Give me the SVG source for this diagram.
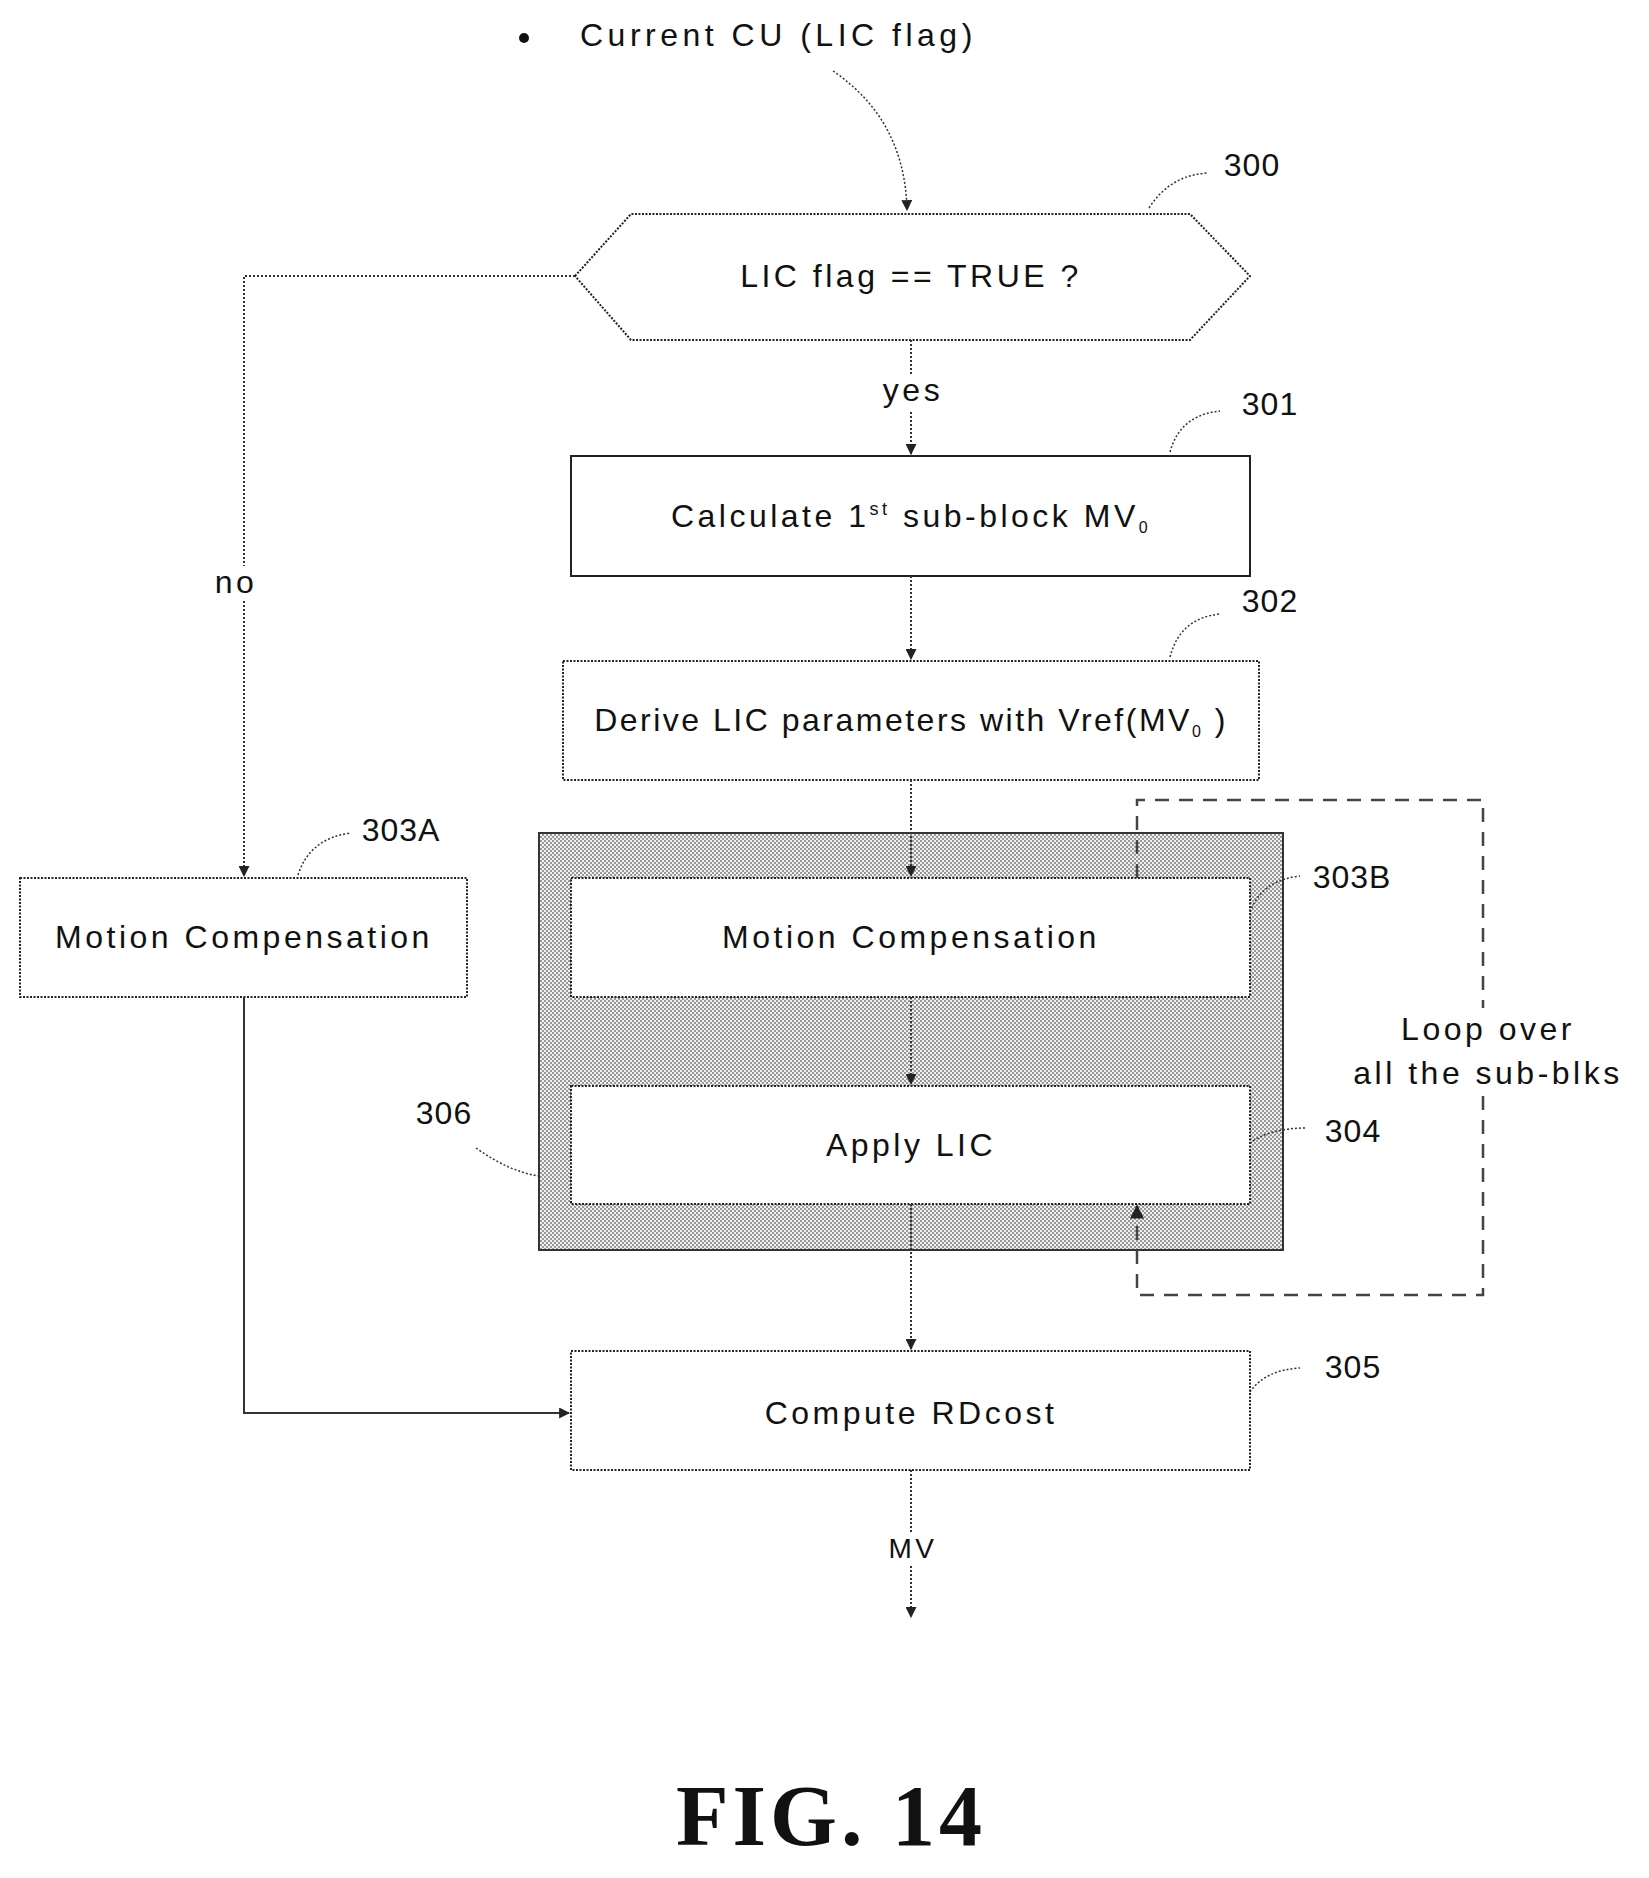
<svg xmlns="http://www.w3.org/2000/svg" width="1649" height="1878" viewBox="0 0 1649 1878">
<defs>
<style>
text{font-family:"Liberation Sans",Arial,sans-serif;font-size:32px;fill:#111;letter-spacing:3.5px}
.n{letter-spacing:1px}
.c{text-anchor:middle}
.box{fill:#fff;stroke:#222;stroke-width:2;stroke-dasharray:2,1.5}
.ln{fill:none;stroke:#333;stroke-width:2;stroke-dasharray:2,2}
.ld{fill:none;stroke:#333;stroke-width:1.5;stroke-dasharray:2,2}
.loop{fill:none;stroke:#444;stroke-width:2.5;stroke-dasharray:14,10}
.bg{fill:#fff}
</style>
<pattern id="dots" width="4" height="4" patternUnits="userSpaceOnUse"><rect width="4" height="4" fill="#f0f0f0"/><rect width="2" height="2" fill="#999"/><rect x="2" y="2" width="2" height="2" fill="#999"/></pattern>
<marker id="ar" viewBox="0 0 10 10" refX="9" refY="5" markerWidth="11" markerHeight="11" markerUnits="userSpaceOnUse" orient="auto"><path d="M0,0 L10,5 L0,10 z" fill="#222"/></marker>
<marker id="ar2" viewBox="0 0 10 10" refX="9" refY="5" markerWidth="14" markerHeight="14" markerUnits="userSpaceOnUse" orient="auto"><path d="M0,0 L10,5 L0,10 z" fill="#222"/></marker>
</defs>
<g id="start">
<circle cx="524" cy="38" r="5" fill="#111"/>
<text x="580" y="46" style="letter-spacing:4.5px">Current CU (LIC flag)</text>
</g>
<g id="n306">
<rect x="539" y="833" width="744" height="417" fill="url(#dots)" stroke="#333" stroke-width="2"/>
<path class="ld" d="M476,1148 Q510,1172 539,1176"/>
<text x="444" y="1124" class="c n">306</text>
</g>
<g id="n300">
<polygon class="box" points="575,276 631,214 1190,214 1250,276 1190,340 631,340"/>
<text x="911" y="287" class="c">LIC flag == TRUE ?</text>
<path class="ld" d="M1149,208 Q1170,175 1208,173"/>
<text x="1252" y="176" class="c n">300</text>
</g>
<g id="n301">
<rect class="box" x="571" y="456" width="679" height="120" style="stroke-dasharray:none"/>
<text x="911" y="527" class="c">Calculate 1<tspan dy="-12" font-size="18">st</tspan><tspan dy="12"> sub-block MV</tspan><tspan dy="6" font-size="16">0</tspan></text>
<path class="ld" d="M1170,452 Q1180,415 1220,411"/>
<text x="1270" y="415" class="c n">301</text>
</g>
<g id="n302">
<rect class="box" x="563" y="661" width="696" height="119"/>
<text x="911" y="731" class="c" style="letter-spacing:2.5px">Derive LIC parameters with Vref(MV<tspan dy="6" font-size="16">0</tspan><tspan dy="-6"> )</tspan></text>
<path class="ld" d="M1170,657 Q1180,618 1220,614"/>
<text x="1270" y="612" class="c n">302</text>
</g>
<g id="n303A">
<rect class="box" x="20" y="878" width="447" height="119"/>
<text x="244" y="948" class="c">Motion Compensation</text>
<path class="ld" d="M298,875 Q310,838 351,833"/>
<text x="401" y="841" class="c n">303A</text>
</g>
<g id="n303B">
<rect class="box" x="571" y="878" width="679" height="119"/>
<text x="911" y="948" class="c">Motion Compensation</text>
<path class="ld" d="M1250,912 Q1262,880 1300,876"/>
<text x="1352" y="888" class="c n">303B</text>
</g>
<g id="n304">
<rect class="box" x="571" y="1086" width="679" height="118"/>
<text x="911" y="1156" class="c">Apply LIC</text>
<path class="ld" d="M1250,1143 Q1270,1128 1307,1128"/>
<text x="1353" y="1142" class="c n">304</text>
</g>
<g id="n305">
<rect class="box" x="571" y="1351" width="679" height="119"/>
<text x="911" y="1424" class="c">Compute RDcost</text>
<path class="ld" d="M1250,1392 Q1265,1370 1300,1368"/>
<text x="1353" y="1378" class="c n">305</text>
</g>
<g id="connectors">
<path class="ld" d="M833,71 Q905,120 907,210" marker-end="url(#ar)"/>
<path class="ln" d="M575,276 H244 V876" marker-end="url(#ar)"/>
<path class="ln" d="M911,340 V454" marker-end="url(#ar)"/>
<path class="ln" d="M911,576 V659" marker-end="url(#ar)"/>
<path class="ln" d="M911,780 V876" marker-end="url(#ar)"/>
<path class="ln" d="M911,997 V1084" marker-end="url(#ar)"/>
<path class="ln" d="M911,1204 V1349" marker-end="url(#ar)"/>
<path style="fill:none;stroke:#333;stroke-width:2" d="M244,997 V1413 H569" marker-end="url(#ar)"/>
<path class="ln" d="M911,1470 V1617" marker-end="url(#ar)"/>
<path class="loop" d="M1137,878 V800 H1483 V1295 H1137 V1206" marker-end="url(#ar2)"/>
</g>
<g id="labels">
<rect class="bg" x="212" y="566" width="50" height="34"/>
<text x="236" y="593" class="c">no</text>
<rect class="bg" x="880" y="375" width="64" height="36"/>
<text x="913" y="401" class="c">yes</text>
<rect class="bg" x="888" y="1532" width="50" height="34"/>
<text x="913" y="1558" class="c" style="font-size:28px">MV</text>
<rect class="bg" x="1470" y="1008" width="30" height="84"/>
<text x="1488" y="1040" class="c">Loop over</text>
<text x="1488" y="1084" class="c">all the sub-blks</text>
</g>
<text x="831" y="1845" class="c" style="font-family:'Liberation Serif',serif;font-weight:bold;font-size:86px;letter-spacing:4px">FIG. 14</text>
</svg>
